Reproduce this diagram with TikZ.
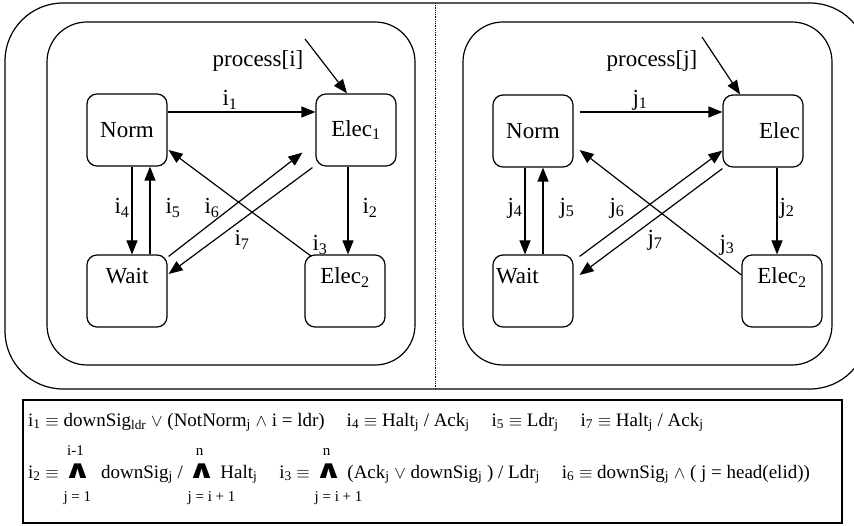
\documentclass[tikz,border=0pt]{standalone}
\usepackage{graphicx}
\usepackage{fontspec}
\setmainfont{Liberation Serif}
\newfontfamily\andfont{DejaVu Sans}
\usetikzlibrary{arrows.meta}

\newcommand\ix[1]{\textsubscript{#1}}
\newcommand\bigand[2]{%
  \rlap{\raisebox{23pt}{\makebox[24pt][c]{\fontsize{15}{17}\selectfont #1}}}%
  \rlap{\raisebox{-23pt}{\fontsize{15}{17}\selectfont #2}}%
  \scalebox{1.5}[1.1]{\andfont\bfseries\fontsize{23}{25}\selectfont ∧}}

\tikzset{
  state/.style={draw, line width=1.2pt, rounded corners=10pt, minimum width=80pt,
    minimum height=72pt, inner sep=3pt, font=\fontsize{23}{27}\selectfont},
  lowstate/.style={state, text height=16pt, text depth=31pt},
  trans/.style={line width=1.2pt, -{Triangle[length=14pt,width=11pt]}},
  lbl/.style={font=\fontsize{23}{27}\selectfont, inner sep=0pt},
  frame/.style={line width=1.2pt, rounded corners=40pt},
  guard/.style={anchor=base west, inner sep=0pt, font=\fontsize{19}{23}\selectfont},
}

\begin{document}
\begin{tikzpicture}[x=1pt, y=-1pt]
  \useasboundingbox (0,0) rectangle (854,526);

  % outer frame, cut at the right edge
  \begin{scope}
    \clip (0,0) rectangle (854,526);
    \draw[line width=1.2pt, rounded corners=58pt] (5,3) rectangle (868,389);
  \end{scope}
  \draw[densely dotted, line width=0.8pt] (435,3) -- (435,389);

  % process i
  \draw[frame] (47,22) rectangle (415,365);
  \node[state] (norm) at (127,130) {Norm};
  \node[state] (elec) at (356,130) {Elec\ix{1}};
  \node[lowstate] (wait) at (127,291) {Wait};
  \node[lowstate] (elecb) at (345,291) {Elec\ix{2}};
  \coordinate (pin) at (305,39);
  \node[lbl] (proc) at (258,61) {process[i]};

  \draw[trans] (pin) -- ([xshift=-9pt]elec.north);
  \draw[trans] ([yshift=18pt]norm.east) -- ([yshift=18pt]elec.west);
  \draw[trans] ([xshift=-8pt]elec.south) -- ([xshift=-8pt]elec.south |- elecb.north);
  \draw[trans] ([xshift=5pt]norm.south) -- ([xshift=5pt]wait.north);
  \draw[trans] ([xshift=23pt]wait.north) -- ([xshift=23pt]norm.south);
  \draw[trans] ([xshift=1pt,yshift=-2pt]wait.north east) -- ([xshift=-13pt,yshift=14pt]elec.south west);
  \draw[trans] ([xshift=-3pt,yshift=-1pt]elec.south west) -- ([xshift=1pt,yshift=17pt]wait.east);
  \draw[trans] ([xshift=7pt,yshift=-2pt]elecb.north west) -- ([xshift=1pt,yshift=-20pt]norm.east);

  \node[lbl] (li1) at (230,100) {i\ix{1}};
  \node[lbl] (li2) at (370,208) {i\ix{2}};
  \node[lbl] (li3) at (320,245) {i\ix{3}};
  \node[lbl] (li4) at (122,208) {i\ix{4}};
  \node[lbl] (li5) at (173,208) {i\ix{5}};
  \node[lbl] (li6) at (212,208) {i\ix{6}};
  \node[lbl] (li7) at (242,240) {i\ix{7}};

  % process j
  \draw[frame] (463,22) rectangle (832,365);
  \node[state] (normj) at (533,131) {Norm};
  \node[state, text width=74pt, align=right] (elecj) at (763,131) {Elec};
  \node[lowstate, text width=74pt, align=left] (waitj) at (533,291) {Wait};
  \node[lowstate] (elecbj) at (782,291) {Elec\ix{2}};
  \coordinate (pinj) at (702,37);
  \node[lbl] (procj) at (652,61) {process[j]};

  \draw[trans] (pinj) -- ([xshift=-23pt]elecj.north);
  \draw[trans] ([xshift=6pt,yshift=19pt]normj.east) -- ([yshift=19pt]elecj.west);
  \draw[trans] ([xshift=14pt]elecj.south) -- ([xshift=14pt]elecj.south |- elecbj.north);
  \draw[trans] ([xshift=-8pt]normj.south) -- ([xshift=-8pt]waitj.north);
  \draw[trans] ([xshift=10pt]waitj.north) -- ([xshift=10pt]normj.south);
  \draw[trans] ([xshift=6pt,yshift=-2pt]waitj.north east) -- ([yshift=17pt]elecj.south west);
  \draw[trans] ([yshift=-1pt]elecj.south west) -- ([xshift=6pt,yshift=16pt]waitj.east);
  \draw[trans] ([yshift=16pt]elecbj.west) -- ([xshift=6pt,yshift=-19pt]normj.east);

  \node[lbl] (lj1) at (640,100) {j\ix{1}};
  \node[lbl] (lj2) at (787,208) {j\ix{2}};
  \node[lbl] (lj3) at (727,245) {j\ix{3}};
  \node[lbl] (lj4) at (515,208) {j\ix{4}};
  \node[lbl] (lj5) at (567,208) {j\ix{5}};
  \node[lbl] (lj6) at (617,208) {j\ix{6}};
  \node[lbl] (lj7) at (655,240) {j\ix{7}};

  % guards
  \draw[line width=1.2pt] (23,400) rectangle (842,523);
  \node[guard] (gone) at (28,426) {i\ix{1} $\equiv$ downSig\ix{ldr} $\vee$ (NotNorm\ix{j} $\wedge$ i = ldr)\hspace{22pt}i\ix{4} $\equiv$ Halt\ix{j} / Ack\ix{j}\hspace{22pt}i\ix{5} $\equiv$ Ldr\ix{j}\hspace{22pt}i\ix{7} $\equiv$ Halt\ix{j} / Ack\ix{j}};
  \node[guard] (gtwo) at (28,478) {i\ix{2} $\equiv$ \bigand{i-1}{j = 1}\ \ downSig\ix{j} / \bigand{n}{j = i + 1} Halt\ix{j}\hspace{22pt}i\ix{3} $\equiv$ \bigand{n}{j = i + 1} (Ack\ix{j} $\vee$ downSig\ix{j} ) / Ldr\ix{j}\hspace{22pt}i\ix{6} $\equiv$ downSig\ix{j} $\wedge$ ( j = head(elid))};
\end{tikzpicture}
\end{document}
